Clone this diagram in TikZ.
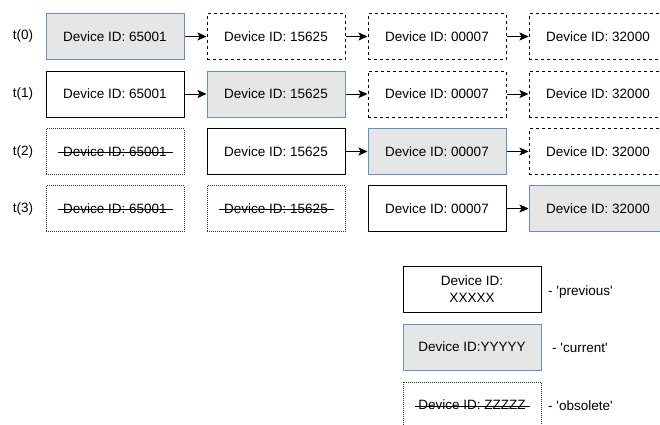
\documentclass[tikz,border=0pt]{standalone}
\usepackage{fontspec}
\setmainfont{Liberation Sans}
\usetikzlibrary{arrows.meta}
\definecolor{curfill}{HTML}{E6E6E6}
\definecolor{curline}{HTML}{6C8EBF}
\begin{document}
\begin{tikzpicture}[x=1pt,y=-1pt,
  font=\fontsize{13.5}{17}\selectfont,
  box/.style={minimum width=138pt,minimum height=46pt,inner sep=0pt,line width=1pt,align=center},
  cur/.style={box,draw=curline,fill=curfill},
  prev/.style={box,draw=black},
  fut/.style={box,draw=black,dash pattern=on 3pt off 3pt},
  obs/.style={box,draw=black!80,dash pattern=on 1pt off 1pt,
    path picture={\draw[black,line width=1pt,solid]
      ([xshift=-57.5pt,yshift=-1pt]path picture bounding box.center) -- ++(115,0);}},
  arr/.style={-{Stealth[length=9pt,width=8pt,inset=2pt]},line width=1pt},
  tlab/.style={inner sep=0pt},
  leg/.style={inner sep=0pt,anchor=west}]
\useasboundingbox (0,0) rectangle (660,424);
\clip (0,0) rectangle (660,424);
\fill[white] (0,0) rectangle (660,424);
% row labels
\node[tlab] (t0) at (23,36.5) {t(0)};
\node[tlab] (t1) at (23,94) {t(1)};
\node[tlab] (t2) at (23,151.5) {t(2)};
\node[tlab] (t3) at (23,208.5) {t(3)};
% row 0
\node[cur]  (a0) at (115,36.5) {Device ID: 65001};
\node[fut]  (a1) at (276,36.5) {Device ID: 15625};
\node[fut]  (a2) at (437,36.5) {Device ID: 00007};
\node[fut]  (a3) at (598,36.5) {Device ID: 32000};
% row 1
\node[prev] (b0) at (115,94) {Device ID: 65001};
\node[cur]  (b1) at (276,94) {Device ID: 15625};
\node[fut]  (b2) at (437,94) {Device ID: 00007};
\node[fut]  (b3) at (598,94) {Device ID: 32000};
% row 2
\node[obs]  (c0) at (115,151.5) {Device ID: 65001};
\node[prev] (c1) at (276,151.5) {Device ID: 15625};
\node[cur]  (c2) at (437,151.5) {Device ID: 00007};
\node[fut]  (c3) at (598,151.5) {Device ID: 32000};
% row 3
\node[obs]  (d0) at (115,208.5) {Device ID: 65001};
\node[obs]  (d1) at (276,208.5) {Device ID: 15625};
\node[prev] (d2) at (437,208.5) {Device ID: 00007};
\node[cur]  (d3) at (598,208.5) {Device ID: 32000};
% arrows
\draw[arr] (a0) -- (a1);
\draw[arr] (a1) -- (a2);
\draw[arr] (a2) -- (a3);
\draw[arr] (b0) -- (b1);
\draw[arr] (b1) -- (b2);
\draw[arr] (b2) -- (b3);
\draw[arr] (c1) -- (c2);
\draw[arr] (c2) -- (c3);
\draw[arr] (d2) -- (d3);
% legend
\node[prev] (lp) at (472,289) {Device ID:\\XXXXX};
\node[cur]  (lc) at (472,347) {Device ID:YYYYY};
\node[obs]  (lo) at (472,405) {Device ID: ZZZZZ};
\node[leg] (lpt) at (548,292) {- \textquotesingle previous\textquotesingle};
\node[leg] (lct) at (552,348) {- \textquotesingle current\textquotesingle};
\node[leg] (lot) at (548,406) {- \textquotesingle obsolete\textquotesingle};
\end{tikzpicture}
\end{document}
